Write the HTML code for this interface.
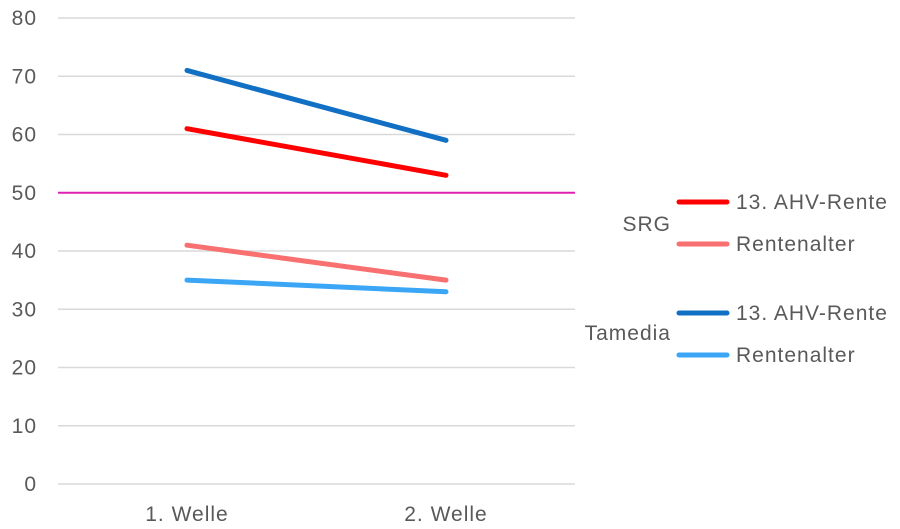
<!DOCTYPE html>
<html><head><meta charset="utf-8">
<style>
html,body{margin:0;padding:0;background:#fff;}
svg{display:block;font-family:"Liberation Sans",sans-serif;}
svg text{letter-spacing:1px;}
</style></head>
<body>
<svg id="chart" width="900" height="529"></svg>
<script>
const categories = ["1. Welle", "2. Welle"];
const srgAhv = [61, 53];
const srgRente = [41, 35];
const tamAhv = [71, 59];
const tamRente = [35, 33];
const yTicks = [0, 10, 20, 30, 40, 50, 60, 70, 80];
const refValue = 50;

const NS = "http://www.w3.org/2000/svg";
const svg = document.getElementById("chart");
const x0 = 58, x1 = 575, yBase = 484, yTop = 18;
const yScale = v => yBase - (v / 80) * (yBase - yTop);
const xCenters = [187, 446];
const xScale = i => xCenters[0] + i * (xCenters[1] - xCenters[0]) / (categories.length - 1);
const FS = 21;

function mk(tag, attrs, text) {
  const e = document.createElementNS(NS, tag);
  for (const k in attrs) e.setAttribute(k, attrs[k]);
  if (text !== undefined) e.textContent = text;
  svg.appendChild(e);
  return e;
}

yTicks.forEach(t => {
  const g = mk("line", {x1: x0, x2: x1, y1: yScale(t), y2: yScale(t), stroke: "#d9d9d9", "stroke-width": 1.5});
  
  
  const l = mk("text", {x: 37, y: yScale(t) + 7, "text-anchor": "end", "font-size": FS, fill: "#595959"}, String(t));
  
  
});

categories.forEach((c, i) => {
  const l = mk("text", {x: xScale(i), y: 521, "text-anchor": "middle", "font-size": FS, fill: "#595959"}, c);
  
  
});

const ref = mk("line", {x1: x0, x2: x1, y1: yScale(refValue), y2: yScale(refValue), stroke: "#e020b0", "stroke-width": 2});



const series = [
  {vals: tamRente, color: "#3aa6f5", name: "tamedia-rentenalter-line"},
  {vals: srgRente, color: "#f87070", name: "srg-rentenalter-line"},
  {vals: srgAhv, color: "#ff0000", name: "srg-ahv-line"},
  {vals: tamAhv, color: "#1170c4", name: "tamedia-ahv-line"}
];
series.forEach(s => {
  const pts = s.vals.map((v, i) => xScale(i) + "," + yScale(v)).join(" ");
  const p = mk("polyline", {points: pts, fill: "none", stroke: s.color, "stroke-width": 5, "stroke-linecap": "round"});
  
  
});

const legend = [
  {y: 202, color: "#ff0000", label: "13. AHV-Rente"},
  {y: 244, color: "#f87070", label: "Rentenalter"},
  {y: 313, color: "#1170c4", label: "13. AHV-Rente"},
  {y: 355, color: "#3aa6f5", label: "Rentenalter"}
];
legend.forEach(e => {
  const ln = mk("line", {x1: 679, x2: 727, y1: e.y, y2: e.y, stroke: e.color, "stroke-width": 5, "stroke-linecap": "round"});
  
  
  const t = mk("text", {x: 736, y: e.y + 7, "font-size": FS, fill: "#595959"}, e.label);
  
  
});
const g1 = mk("text", {x: 671, y: 231, "text-anchor": "end", "font-size": FS, fill: "#595959"}, "SRG");


const g2 = mk("text", {x: 671, y: 340, "text-anchor": "end", "font-size": FS, fill: "#595959"}, "Tamedia");


</script>
</body></html>
